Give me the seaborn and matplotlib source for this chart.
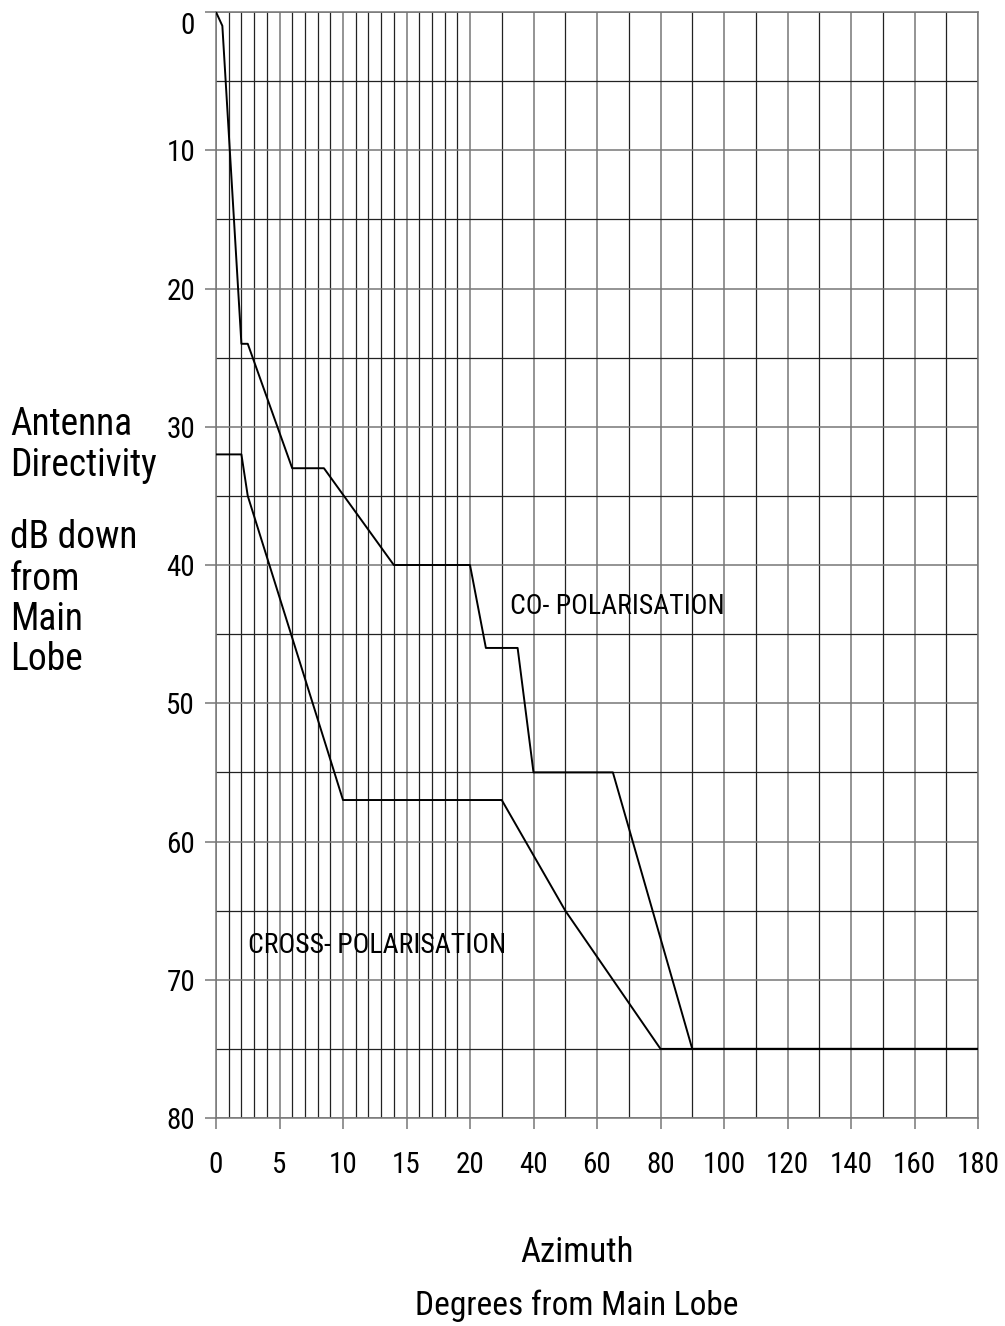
import numpy as np
import pandas as pd
import matplotlib
matplotlib.use("Agg")
import matplotlib.pyplot as plt
from matplotlib import font_manager
import seaborn as sns

# Data (azimuth in degrees, directivity in dB down)
co_az = [0, 0.5, 2, 2.5, 6, 8.5, 14, 20, 25, 35, 40, 65, 90, 180]
co_db = [0, 1, 24, 24, 33, 33, 40, 40, 46, 46, 55, 55, 75, 75]
cross_az = [0, 2, 2.5, 10, 30, 50, 80, 180]
cross_db = [32, 32, 35, 57, 57, 65, 75, 75]

x_major = [0, 5, 10, 15, 20, 40, 60, 80, 100, 120, 140, 160, 180]
x_minor = list(range(1, 20)) + list(range(30, 180, 20))
y_major = [0, 10, 20, 30, 40, 50, 60, 70, 80]
y_minor = [5, 15, 25, 35, 45, 55, 65, 75]

ylabel_lines = ["Antenna", "Directivity", "dB down", "from", "Main", "Lobe"]
ylabel_baselines = [435, 476, 548, 590, 630, 670]

sns.set_style("white")
names = {f.name for f in font_manager.fontManager.ttflist}
chosen = None
for cand in ["Liberation Sans Narrow", "Roboto Condensed", "Open Sans Condensed"]:
    if cand in names:
        chosen = cand
        break
if chosen is not None:
    plt.rcParams['font.family'] = [chosen, "DejaVu Sans"]
    fs_tick, fs_lab, fs_lab2, fs_ylab, fs_ann = 21, 25, 24, 27, 20
else:
    plt.rcParams['font.family'] = ["Liberation Sans", "DejaVu Sans"]
    fs_tick, fs_lab, fs_lab2, fs_ylab, fs_ann = 19, 23, 22, 23, 17
plt.rcParams['text.color'] = 'black'
plt.rcParams['xtick.color'] = 'black'
plt.rcParams['ytick.color'] = 'black'

fig = plt.figure(figsize=(10.05, 13.26), dpi=100)
ax = fig.add_axes([216/1005, 1 - 1118/1326, (978-216)/1005, (1118-12)/1326])


def fwd(x):
    x = np.asarray(x, dtype=float)
    return np.where(x <= 20, x / 5.0, 4 + (x - 20) / 20.0)


def inv(y):
    y = np.asarray(y, dtype=float)
    return np.where(y <= 4, y * 5.0, 20 + (y - 4) * 20.0)


ax.set_xscale('function', functions=(fwd, inv))

df_co = pd.DataFrame({"az": co_az, "db": co_db})
df_cross = pd.DataFrame({"az": cross_az, "db": cross_db})
sns.lineplot(data=df_co, x="az", y="db", ax=ax, color="black", lw=1.4, sort=False, estimator=None, zorder=5)
sns.lineplot(data=df_cross, x="az", y="db", ax=ax, color="black", lw=1.4, sort=False, estimator=None, zorder=5)

ax.set_xlim(0, 180)
ax.set_ylim(80, 0)

ax.set_xticks(x_major)
ax.set_xticklabels([str(v) for v in x_major])
ax.set_xticks(x_minor, minor=True)
ax.set_yticks(y_major)
ax.set_yticklabels([str(v) for v in y_major])
ax.set_yticks(y_minor, minor=True)

ax.grid(True, which='major', color='#777777', lw=1.1, zorder=1)
ax.grid(True, which='minor', color='#222222', lw=0.9, zorder=1)
ax.set_axisbelow(True)

ax.tick_params(axis='x', which='major', length=8, width=1.1, color='#777777',
               labelsize=fs_tick, pad=16, bottom=True, labelcolor='black')
ax.tick_params(axis='y', which='major', length=8, width=1.1, color='#777777',
               labelsize=fs_tick, pad=7, left=True, labelcolor='black')
ax.tick_params(axis='both', which='minor', length=0)
ax.get_yticklabels()[0].set_va('top')
for s in ax.spines.values():
    s.set_color('#777777')
    s.set_linewidth(1.1)

ax.set_xlabel("")
ax.set_ylabel("")

ax.text(32.5, 43, "CO- POLARISATION", fontsize=fs_ann, ha='left', va='center', zorder=6)
ax.text(2.5, 67.5, "CROSS- POLARISATION", fontsize=fs_ann, ha='left', va='center', zorder=6)

for line, yb in zip(ylabel_lines, ylabel_baselines):
    fig.text(10/1005, 1 - yb/1326, line, fontsize=fs_ylab, ha='left', va='baseline')
fig.text(577/1005, 1 - 1262/1326, "Azimuth", fontsize=fs_lab, ha='center', va='baseline')
fig.text(577/1005, 1 - 1315/1326, "Degrees from Main Lobe", fontsize=fs_lab2, ha='center', va='baseline')

fig.savefig("out.png", dpi=100, facecolor='white')
